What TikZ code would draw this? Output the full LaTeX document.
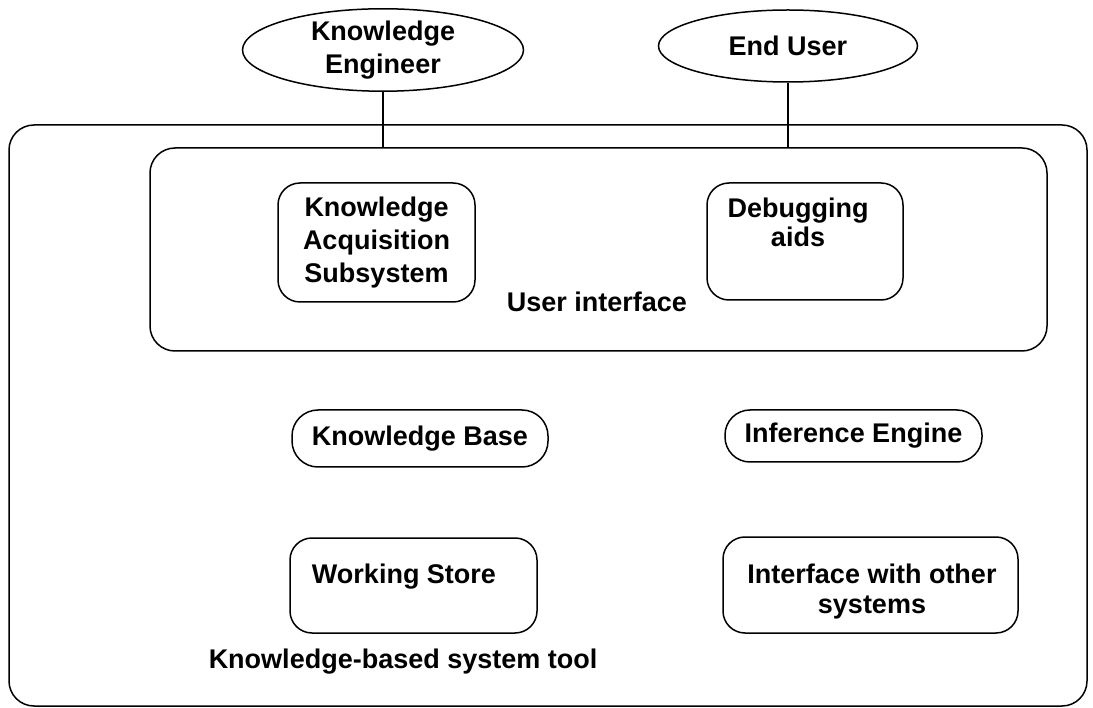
\documentclass[tikz,border=0pt]{standalone}
\usepackage{fontspec}
\setmainfont{Liberation Sans}
\usetikzlibrary{shapes.geometric}
\begin{document}
\begin{tikzpicture}[x=1pt,y=-1pt,line width=1.5pt,
    font=\bfseries\fontsize{27}{33}\selectfont,
    frame/.style={draw,rounded corners=25pt,inner sep=0pt},
    unit/.style={draw,rounded corners=22pt,inner sep=0pt,align=center},
    actor/.style={draw,ellipse,inner sep=0pt,align=center},
    txt/.style={inner sep=0pt,align=center}]
\useasboundingbox (0,0) rectangle (1093,708);
\node at (548,415.5) [frame,minimum width=1078pt,minimum height=581pt] (tool) {};
\node at (598.5,249.5) [frame,minimum width=897pt,minimum height=203pt] (ui) {};
\node at (383,50) [actor,minimum width=281pt,minimum height=76pt] (ke) {Knowledge\\Engineer}
    edge (ke.south |- ui.north);
\node at (788,46) [actor,minimum width=259pt,minimum height=72pt] (eu) {End User}
    edge (eu.south |- ui.north);
% inside the user interface
\node at (376.5,242.5) [unit,minimum width=197pt,minimum height=119pt] (kas) {Knowledge\\Acquisition\\Subsystem};
\node at (805,241.5) [unit,minimum width=196pt,minimum height=117pt] (dbg) {};
\node at (798,197) [txt,anchor=north,font=\bfseries\fontsize{27}{29}\selectfont] (dbgtext) {Debugging\\aids};
\node at (597,302) [txt] (uitext) {User interface};
% the rest of the tool
\node at (420,438.5) [unit,rounded corners=26pt,minimum width=256pt,minimum height=57pt] (kb) {Knowledge Base};
\node at (853.5,436) [unit,rounded corners=25pt,minimum width=257pt,minimum height=52pt] (ie) {Inference Engine};
\node at (413.5,585.5) [unit,minimum width=247pt,minimum height=95pt] (ws) {};
\node at (404,583) [txt,anchor=base] (wstext) {Working Store};
\node at (870.5,585) [unit,minimum width=295pt,minimum height=96pt] (iface) {};
\node at (872,563) [txt,anchor=north,font=\bfseries\fontsize{27}{30}\selectfont] (ifacetext) {Interface with other\\systems};
\node at (208,662) [txt,anchor=west] (tooltext) {Knowledge-based system tool};
\end{tikzpicture}
\end{document}
